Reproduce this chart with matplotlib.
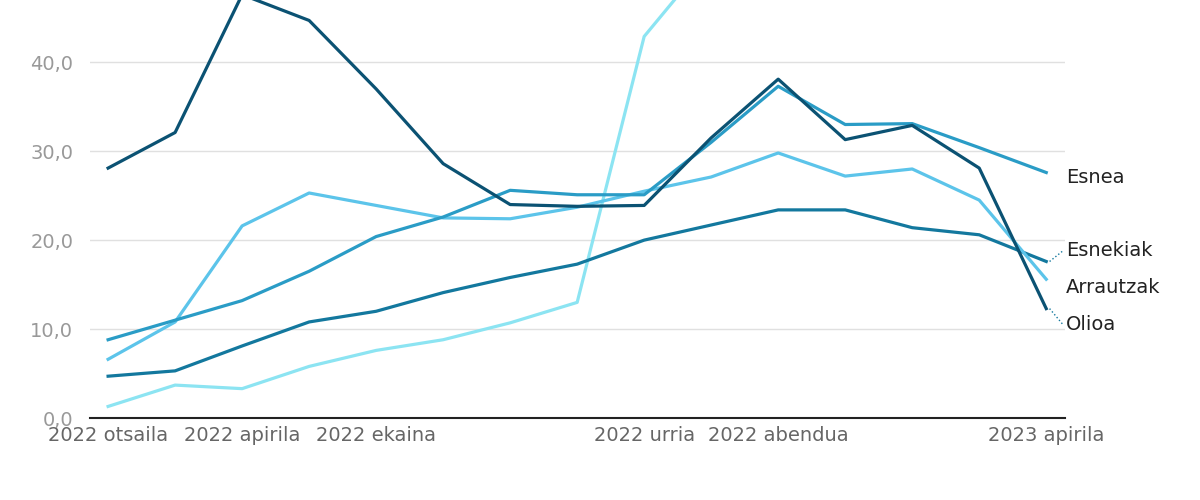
import matplotlib
matplotlib.use('Agg')
import matplotlib.pyplot as plt
import numpy as np

months = ['2022 otsaila', '2022 martxoa', '2022 apirila', '2022 maiatza', '2022 ekaina',
          '2022 uztaila', '2022 abuztua', '2022 iraila', '2022 urria', '2022 azaroa',
          '2022 abendua', '2023 urtarrila', '2023 otsaila', '2023 martxoa', '2023 apirila']
shown_ticks = [0, 2, 4, 8, 10, 14]

olioa = [28.1, 32.1, 47.6, 44.7, 37.0, 28.6, 24.0, 23.8, 23.9, 31.5, 38.1, 31.3, 32.9, 28.1, 12.3]
esnea = [8.8, 11.0, 13.2, 16.5, 20.4, 22.6, 25.6, 25.1, 25.1, 31.0, 37.3, 33.0, 33.1, 30.4, 27.6]
arrautzak = [6.6, 10.8, 21.6, 25.3, 23.9, 22.5, 22.4, 23.7, 25.5, 27.1, 29.8, 27.2, 28.0, 24.5, 15.6]
esnekiak = [4.7, 5.3, 8.1, 10.8, 12.0, 14.1, 15.8, 17.3, 20.0, 21.7, 23.4, 23.4, 21.4, 20.6, 17.6]
beste = [1.3, 3.7, 3.3, 5.8, 7.6, 8.8, 10.7, 13.0, 42.9, 52.0, 58.0, 60.0, 61.0, 59.0, 56.0]

fig = plt.figure(figsize=(12, 5), dpi=100)
ax = fig.add_axes([0.075, 0.164, 0.8125, 0.836])
x = np.arange(len(months))

ax.plot(x, beste, color='#8ce4f2', lw=2.3)
ax.plot(x, esnekiak, color='#13789e', lw=2.3)
ax.plot(x, arrautzak, color='#5cc4ea', lw=2.3)
ax.plot(x, esnea, color='#2a9cc6', lw=2.3)
ax.plot(x, olioa, color='#0b5273', lw=2.3)

ax.set_xlim(-0.27, 14.28)
ax.set_ylim(0, 47)
ax.set_yticks([0, 10, 20, 30, 40])
ax.set_yticklabels(['0,0', '10,0', '20,0', '30,0', '40,0'], color='#999999', fontsize=14)
ax.set_xticks(shown_ticks)
ax.set_xticklabels([months[i] for i in shown_ticks], color='#666666', fontsize=14)
ax.tick_params(length=0, pad=6)
ax.tick_params(axis='y', pad=12)
ax.grid(axis='y', color='#e0e0e0', lw=1)
for s in ['top', 'right', 'left']:
    ax.spines[s].set_visible(False)
ax.spines['bottom'].set_color('#222222')
ax.spines['bottom'].set_linewidth(1.5)
ax.set_axisbelow(True)

# etiketak
labels = [('Esnea', 27.0, esnea[-1]), ('Esnekiak', 18.8, esnekiak[-1]),
          ('Arrautzak', 14.7, arrautzak[-1]), ('Olioa', 10.5, olioa[-1])]
for name, ly, vy in labels:
    ax.text(14.3, ly, name, fontsize=14, color='#222222', va='center', clip_on=False)
    if name in ('Esnekiak', 'Olioa'):
        ax.plot([14.05, 14.25], [vy, ly], ls=':', color='#13789e', lw=1, clip_on=False)

fig.savefig('out.png', dpi=100)
